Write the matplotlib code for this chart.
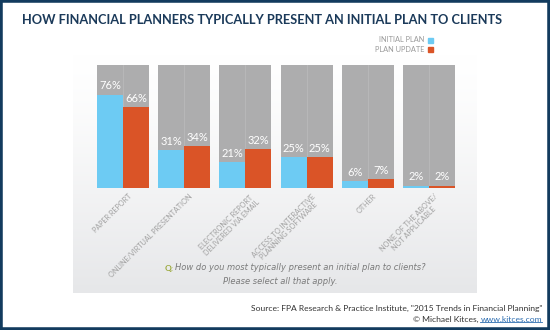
import matplotlib
matplotlib.use("Agg")
import matplotlib.pyplot as plt
import numpy as np
from matplotlib.patches import Rectangle
from matplotlib.lines import Line2D

categories = ["PAPER REPORT", "ONLINE/VIRTUAL PRESENTATION",
              "ELECTRONIC REPORT\nDELIVERED VIA EMAIL",
              "ACCESS TO INTERACTIVE\nPLANNING SOFTWARE", "OTHER",
              "NONE OF THE ABOVE/\nNOT APPLICABLE"]
initial_plan = [76, 31, 21, 25, 6, 2]
plan_update = [66, 34, 32, 25, 7, 2]
series_names = ["INITIAL PLAN", "PLAN UPDATE"]

navy = "#123b5e"
blue = "#6dcbf3"
orange = "#da5427"
grey = "#adadae"

W, H = 550, 330
fig = plt.figure(figsize=(5.5, 3.3), dpi=100)
fig.patch.set_facecolor("white")


def fx(px):
    return px / W


def fy(py):
    return 1 - py / H


# panel gradiente de fondo
bg = fig.add_axes([fx(73), fy(293), fx(477 - 73), (293 - 55) / H])
grad = np.linspace(0, 1, 256).reshape(-1, 1)
top = np.array([1.0, 1.0, 1.0])
bot = np.array([0xe6, 0xe7, 0xe9]) / 255
img = top + (bot - top) * grad[:, :, None] ** 1.3
bg.imshow(img, aspect="auto", extent=[0, 1, 0, 1], origin="upper")
bg.axis("off")

# barras
ax = fig.add_axes([fx(97), fy(188), (455 - 97) / W, (188 - 65) / H])
ax.set_facecolor("none")
bw = 0.425
x = np.arange(len(categories))
ax.bar(x, [100] * len(x), width=2 * bw, color=grey, zorder=1)
ax.bar(x - bw / 2, initial_plan, width=bw, color=blue, zorder=2)
ax.bar(x + bw / 2, plan_update, width=bw, color=orange, zorder=2)
for xi in x:
    ax.plot([xi, xi], [0, 100], color="#b9b9ba", lw=0.6, zorder=1.5)
for xi, a, b in zip(x, initial_plan, plan_update):
    ax.text(xi - bw / 2, a + 2.5, f"{a}%", color="white", ha="center",
            va="bottom", fontsize=8, family="Lato", zorder=3)
    ax.text(xi + bw / 2, b + 2.5, f"{b}%", color="white", ha="center",
            va="bottom", fontsize=8, family="Lato", zorder=3)
for xi, cat in zip(x, categories):
    ax.text(xi + 0.08, -4, cat, rotation=45, rotation_mode="anchor",
            ha="right", va="top", multialignment="center", fontsize=5.2,
            color="#a0a0a0", family="Lato", linespacing=1.1)
ax.set_xlim(-bw, len(x) - 1 + bw)
ax.set_ylim(0, 100)
ax.axis("off")

# titulo
title = fig.text(fx(262), fy(20), "HOW FINANCIAL PLANNERS TYPICALLY PRESENT AN INITIAL PLAN TO CLIENTS",
                 ha="center", va="center", fontsize=11, fontweight="bold",
                 color="#1b3a5a", family="Lato")
fig.canvas.draw()
tw = title.get_window_extent().width
title.set_fontsize(11 * 482 / tw)

# leyenda
for i, (name, c) in enumerate(zip(series_names, [blue, orange])):
    yy = 40 + i * 9
    fig.text(fx(424), fy(yy), name, ha="right", va="center", fontsize=5.3,
             color="#9a9a9a", family="Lato")
    fig.patches.append(Rectangle((fx(427.5), fy(yy + 2.5)), 5 / W, 5 / H,
                                 transform=fig.transFigure, color=c, figure=fig))

# pregunta
fig.text(fx(165), fy(268), "Q:", ha="left", va="center", fontsize=6,
         fontweight="bold", color="#9aa83a", family="Lato")
fig.text(fx(175), fy(268), "How do you most typically present an initial plan to clients?",
         ha="left", va="center", fontsize=6, style="italic", color="#7a7a7a",
         family="DejaVu Sans")
fig.text(fx(280), fy(281), "Please select all that apply.", ha="center",
         va="center", fontsize=6, style="italic", color="#7a7a7a",
         family="DejaVu Sans")

# fuente
fig.text(fx(542), fy(308), 'Source: FPA Research & Practice Institute, "2015 Trends in Financial Planning"',
         ha="right", va="center", fontsize=6.1, color="#333333", family="Lato")
link = fig.text(fx(542), fy(319), "www.kitces.com", ha="right", va="center",
                fontsize=6.1, color="#2b6cb0", family="Lato")
fig.canvas.draw()
bb = link.get_window_extent()
fig.text(bb.x0 / W, fy(319), "\u00a9 Michael Kitces, ", ha="right", va="center",
         fontsize=6.1, color="#333333", family="Lato")
fig.lines.append(Line2D([bb.x0 / W, bb.x1 / W], [bb.y0 / H + 0.002] * 2,
                        transform=fig.transFigure, color="#2b6cb0", lw=0.6,
                        figure=fig))

# marco
fig.patches.append(Rectangle((0, 0), 1, 1, transform=fig.transFigure,
                             fill=False, edgecolor=navy, lw=4, figure=fig))

fig.savefig("out.png", dpi=100)
